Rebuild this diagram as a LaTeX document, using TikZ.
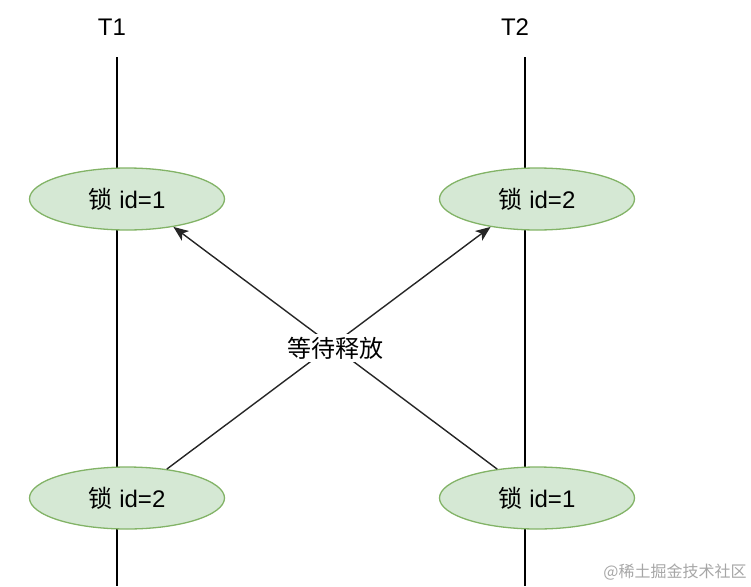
\documentclass[tikz,border=0pt]{standalone}
\usepackage{fontspec}
\setmainfont{Liberation Sans}
\newfontfamily\cjk{Noto Sans CJK SC}
\usetikzlibrary{shapes.geometric,arrows.meta}
\definecolor{lockfill}{HTML}{D5E8D4}
\definecolor{lockdraw}{HTML}{82B366}
\tikzset{
  lock/.style={ellipse, draw=lockdraw, fill=lockfill, line width=1.3pt,
    minimum width=195pt, minimum height=62pt, inner sep=0pt,
    font=\fontsize{24}{28}\selectfont},
  thread/.style={font=\fontsize{24}{28}\selectfont, inner sep=0pt},
  life/.style={line width=1.4pt, black},
  waitarrow/.style={line width=1.4pt, draw=black!85,
    -{Stealth[length=15pt,width=12pt,inset=4pt]}},
  waitlabel/.style={fill=white, inner sep=3pt, font=\cjk\fontsize{24}{28}\selectfont}
}
\begin{document}
\begin{tikzpicture}[x=1pt,y=-1pt]
\useasboundingbox (0,0) rectangle (751,586);
\node[thread] (t1) at (112,27) {T1};
\node[thread] (t2) at (515,27) {T2};
\coordinate (t1top) at (117,57);
\coordinate (t1bot) at (117,586);
\coordinate (t2top) at (525,57);
\coordinate (t2bot) at (525,586);
\draw[life] (t1top) -- (t1bot);
\draw[life] (t2top) -- (t2bot);
\node[lock] (tl) at (127,199) {{\cjk 锁} id=1};
\node[lock] (tr) at (537,199) {{\cjk 锁} id=2};
\node[lock] (bl) at (127,498) {{\cjk 锁} id=2};
\node[lock] (br) at (537,498) {{\cjk 锁} id=1};
\draw[waitarrow] (bl.36) -- (tr.211);
\draw[waitarrow] (br.144) -- (tl.329);
\node[waitlabel] (wait) at (335,348) {等待释放};
\node[font=\cjk\fontsize{16}{18}\selectfont, text=black!35, inner sep=0pt] (wm) at (675,572) {@稀土掘金技术社区};
\end{tikzpicture}
\end{document}
